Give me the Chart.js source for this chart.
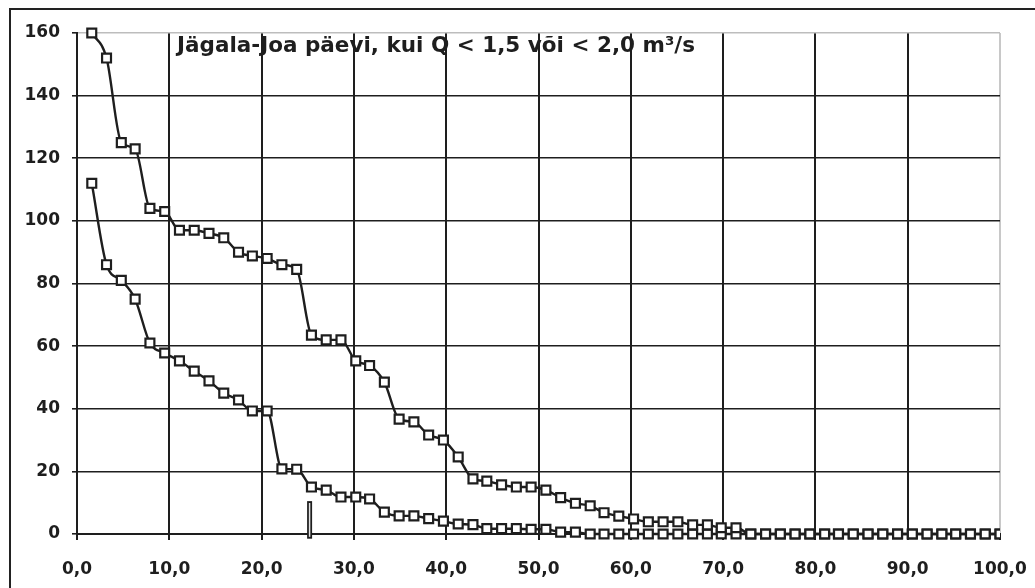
<!DOCTYPE html>
<html>
<head>
<meta charset="utf-8">
<script src="https://cdn.jsdelivr.net/npm/chart.js@4"></script>
<style>
  body { margin: 0; background: #fff; }
  #wrap { position: relative; width: 1035px; height: 588px; }
  #frame { position: absolute; left: 9px; top: 8px; width: 1040px; height: 600px;
           border-top: 2px solid #222; border-left: 2px solid #222; }
</style>
</head>
<body>
<div id="wrap">
  <div id="frame"></div>
  <canvas id="chart" width="1035" height="588"></canvas>
</div>
<script>
// probability (%) of each ranked year
var xs = [1.6, 3.2, 4.8, 6.3, 7.9, 9.5, 11.1, 12.7, 14.3, 15.9, 17.5, 19.0, 20.6, 22.2, 23.8,
  25.4, 27.0, 28.6, 30.2, 31.7, 33.3, 34.9, 36.5, 38.1, 39.7, 41.3, 42.9, 44.4, 46.0, 47.6,
  49.2, 50.8, 52.4, 54.0, 55.6, 57.1, 58.7, 60.3, 61.9, 63.5, 65.1, 66.7, 68.3, 69.8, 71.4,
  73.0, 74.6, 76.2, 77.8, 79.4, 81.0, 82.5, 84.1, 85.7, 87.3, 88.9, 90.5, 92.1, 93.7, 95.2,
  96.8, 98.4, 100];

// days with Q < 2,0 m3/s
var daysQ20 = [160, 152, 125, 123, 104, 103, 97, 97, 96, 94.6, 90, 88.8, 88, 86, 84.5,
  63.5, 62, 62, 55.3, 53.8, 48.5, 36.7, 35.8, 31.6, 30, 24.6, 17.6, 16.9, 15.7, 15,
  15, 14, 11.6, 9.8, 9, 6.8, 5.7, 4.8, 3.9, 3.9, 3.9, 2.9, 2.9, 2, 2,
  0, 0, 0, 0, 0, 0, 0, 0, 0, 0, 0, 0, 0, 0, 0, 0, 0, 0];

// days with Q < 1,5 m3/s
var daysQ15 = [112, 86, 81, 75, 61, 57.8, 55.3, 52, 48.9, 45, 42.8, 39.3, 39.3, 20.8, 20.7,
  15, 14, 11.8, 11.8, 11.2, 7, 5.8, 5.8, 4.9, 4.1, 3.2, 3.0, 1.7, 1.7, 1.7,
  1.5, 1.5, 0.6, 0.6, 0, 0, 0, 0, 0, 0, 0, 0, 0, 0, 0,
  0, 0, 0, 0, 0, 0, 0, 0, 0, 0, 0, 0, 0, 0, 0, 0, 0, 0];

// small marker bar on the x axis
var barX = [25.2, 25.2];
var barY = [-1.5, 10.5];

var yTicks = [0, 20, 40, 60, 80, 100, 120, 140, 160];
var titleText = 'Jägala-Joa päevi, kui Q < 1,5 või < 2,0 m³/s';

var ink = '#1e1e1e';
var font = { family: 'DejaVu Sans', weight: 'bold', size: 17 };

function pts(ys) {
  return xs.map(function (x, i) { return { x: x, y: ys[i] }; });
}

var lineStyle = {
  borderColor: ink,
  borderWidth: 2.4,
  pointStyle: 'rect',
  pointRadius: 6.3,
  pointBorderWidth: 2.2,
  pointBorderColor: ink,
  pointBackgroundColor: '#fff',
  cubicInterpolationMode: 'monotone',
  clip: { left: 10, top: 10, right: 0, bottom: 10 }
};

var titleInside = {
  id: 'titleInside',
  beforeDatasetsDraw: function (chart) {
    var c = chart.ctx, a = chart.chartArea;
    c.save();
    c.font = 'bold 21.5px "DejaVu Sans"';
    c.fillStyle = ink;
    c.textBaseline = 'middle';
    c.fillText(titleText, a.left + 100, a.top + 13);
    c.restore();
  }
};

new Chart(document.getElementById('chart'), {
  type: 'line',
  data: {
    datasets: [
      Object.assign({ label: 'Q < 2,0', data: pts(daysQ20) }, lineStyle),
      Object.assign({ label: 'Q < 1,5', data: pts(daysQ15) }, lineStyle),
      { label: 'bar2', data: [{ x: barX[0], y: barY[0] + 0.6 }, { x: barX[1], y: barY[1] - 0.6 }],
        borderColor: '#e2e2e2', borderWidth: 1.5, pointRadius: 0, clip: false },
      { label: 'bar', data: [{ x: barX[0], y: barY[0] }, { x: barX[1], y: barY[1] }],
        borderColor: ink, borderWidth: 5, pointRadius: 0, clip: false }
    ]
  },
  options: {
    responsive: false,
    animation: false,
    layout: { autoPadding: false, padding: { left: 0, right: 35, top: 33, bottom: 0 } },
    plugins: { legend: { display: false }, tooltip: { enabled: false } },
    scales: {
      x: {
        type: 'linear',
        min: 0, max: 100,
        afterFit: function (s) { s.height = 54; s.paddingLeft = 0; s.paddingRight = 0; },
        ticks: {
          stepSize: 10, color: ink, font: font, padding: 19,
          callback: function (v) { return v.toFixed(1).replace('.', ','); }
        },
        grid: {
          color: function (ctx) { return ctx.tick && ctx.tick.value === 100 ? '#c8c8c8' : ink; },
          lineWidth: 2, tickLength: 6, tickColor: ink
        },
        border: { color: ink, width: 2 }
      },
      y: {
        min: 0, max: 160,
        afterFit: function (s) { s.width = 77; s.paddingTop = 0; s.paddingBottom = 0; },
        afterBuildTicks: function (s) { s.ticks = yTicks.map(function (v) { return { value: v }; }); },
        ticks: { color: ink, font: font, padding: 12 },
        grid: {
          color: function (ctx) { return ctx.tick && ctx.tick.value === 160 ? '#bdbdbd' : ink; },
          lineWidth: 1.6, tickLength: 5, tickColor: ink
        },
        border: { color: ink, width: 2 }
      }
    }
  },
  plugins: [titleInside]
});
</script>
</body>
</html>
